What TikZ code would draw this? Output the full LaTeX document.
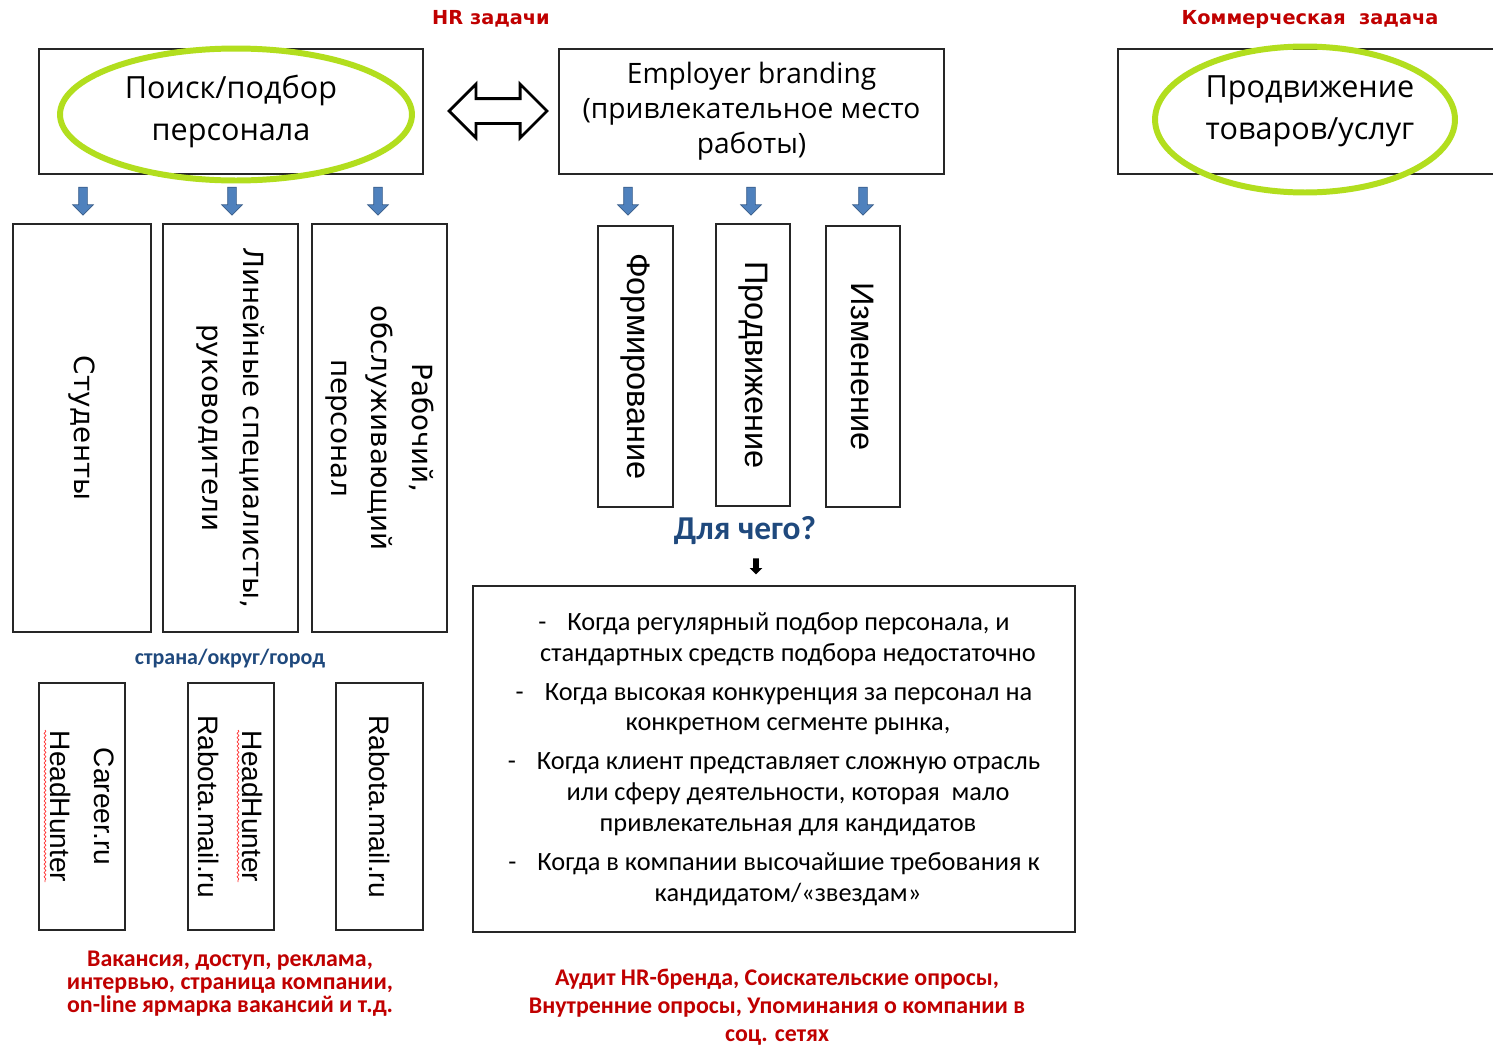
\documentclass[tikz,border=0pt]{standalone}
\usepackage{fontspec}
\setmainfont{Carlito}
\newfontfamily\boxfont{Open Sans}
\newfontfamily\vertfont{DejaVu Sans}
\newfontfamily\arialfont{Liberation Sans}
\usepackage{xcolor}
\usetikzlibrary{shapes.arrows,decorations.pathmorphing}
\definecolor{hrred}{RGB}{192,0,0}
\definecolor{ovalgreen}{RGB}{178,222,30}
\definecolor{darkblue}{RGB}{31,73,125}
\definecolor{arrowblue}{RGB}{79,129,189}
\definecolor{arrowedge}{RGB}{56,93,138}
\newcommand{\hang}{\hspace*{0.56cm}}

\begin{document}
\begin{tikzpicture}[x=0.02cm, y=-0.02cm,
  box/.style={draw=black!85, line width=0.8pt, inner sep=0pt, align=center},
  oval/.style={draw=ovalgreen, line width=3.4pt},
  bluearrow/.style={single arrow, draw=arrowedge, fill=arrowblue, line width=0.4pt, rotate=-90,
    minimum height=0.56cm, inner xsep=0pt, inner ysep=0.08cm, single arrow head extend=0.12cm},
  vbox/.style={box, rotate=-90, font=\vertfont\fontsize{15.8}{23}\selectfont},
  sitebox/.style={box, rotate=-90, font=\arialfont\fontsize{16}{25}\selectfont},
  stepbox/.style={box, rotate=-90, font=\arialfont\fontsize{18.5}{22}\selectfont},
  spellwave/.style={draw=red!80, line width=0.4pt, decorate, decoration={snake, amplitude=0.5pt, segment length=2.4pt}},
  redtext/.style={text=hrred, font=\bfseries\fontsize{13.6}{13}\selectfont, align=center}]
\fill[white] (0,0) rectangle (1493,1045);
\useasboundingbox (0,0) rectangle (1493,1045);

%%%%% Titles %%%%%
\node[font=\vertfont\bfseries\fontsize{11}{12}\selectfont, text=hrred] (hrtitle) at (491,19) {HR задачи};
\node[font=\vertfont\bfseries\fontsize{11}{12}\selectfont, text=hrred] (komtitle) at (1310,19) {Коммерческая\ \ задача};

%%%%% Top row %%%%%
\node[box, minimum width=7.68cm, minimum height=2.5cm, font=\boxfont\fontsize{17.4}{24}\selectfont] (poisk) at (231,111.5) {Поиск/подбор\\персонала};
\draw[oval] (236,114.5) ellipse (3.52cm and 1.32cm);
\node[double arrow, draw, line width=1.6pt, minimum height=1.96cm, inner xsep=0pt, inner ysep=0.22cm,
  double arrow head extend=0.29cm] (link) at (498,111) {};
\node[box, minimum width=7.7cm, minimum height=2.5cm, font=\boxfont\fontsize{16}{20}\selectfont] (brand) at (751.5,111.5) {Employer branding\\(привлекательное место\\работы)};
\node[box, minimum width=7.68cm, minimum height=2.5cm, font=\boxfont\fontsize{17.4}{24}\selectfont] (prodvizh) at (1310,111.5) {Продвижение\\товаров/услуг};
\draw[oval] (1305,119.5) ellipse (3.0cm and 1.46cm);

%%%%% Arrows %%%%%
\foreach \x/\n in {83/a1,232/a2,378/a3,628/b1,751/b2,863/b3}{
\node[bluearrow] (arr\n) at (\x,199) {};
}

%%%%% Target groups %%%%%
\node[vbox, minimum width=8.16cm, minimum height=2.76cm] (stud) at (82,428) {Студенты};
\node[vbox, minimum width=8.16cm, minimum height=2.7cm] (lin) at (230.5,428) {Линейные специалисты,\\руководители};
\node[vbox, minimum width=8.16cm, minimum height=2.7cm] (rab) at (379.5,428) {Рабочий,\\обслуживающий\\персонал};

%%%%% Branding steps %%%%%
\node[stepbox, minimum width=5.62cm, minimum height=1.5cm] (form) at (635.5,366.5) {Формирование};
\node[stepbox, minimum width=5.64cm, minimum height=1.48cm] (prodv) at (753,365) {Продвижение};
\node[stepbox, minimum width=5.62cm, minimum height=1.48cm] (izm) at (863,366.5) {Изменение};

\node[font=\bfseries\fontsize{19}{22}\selectfont, text=darkblue] (dlya) at (745,531) {Для чего?};
\node[single arrow, fill=black, rotate=-90, minimum height=0.32cm, inner xsep=0pt, inner ysep=0.05cm,
  single arrow head extend=0.07cm] (arrdown) at (756,565) {};
\node[box, minimum width=12.04cm, minimum height=6.92cm, font=\fontsize{15}{17.6}\selectfont] (why) at (774,759) {%
-\hspace{0.8em}Когда регулярный подбор персонала, и\\
\hang стандартных средств подбора недостаточно\\[4.5pt]
-\hspace{0.8em}Когда высокая конкуренция за персонал на\\
\hang конкретном сегменте рынка,\\[4.5pt]
-\hspace{0.8em}Когда клиент представляет сложную отрасль\\
\hang или сферу деятельности, которая\ \ мало\\
\hang привлекательная для кандидатов\\[4.5pt]
-\hspace{0.8em}Когда в компании высочайшие требования к\\
\hang кандидатом/«звездам»};

%%%%% Sites %%%%%
\node[font=\bfseries\fontsize{12.5}{14}\selectfont, text=darkblue] (region) at (230,659) {страна/округ/город};
\node[sitebox, minimum width=4.94cm, minimum height=1.72cm] (site1) at (82,806.5) {Career.ru\\HeadHunter};
\node[sitebox, minimum width=4.94cm, minimum height=1.72cm] (site2) at (231,806.5) {HeadHunter\\Rabota.mail.ru};
\node[sitebox, minimum width=4.94cm, minimum height=1.74cm] (site3) at (379.5,806.5) {Rabota.mail.ru};
\draw[spellwave] (45,730) -- (45,882);
\draw[spellwave] (238,730) -- (238,882);

%%%%% Tools %%%%%
\node[redtext] (hrtools) at (230,984) {Вакансия, доступ, реклама,\\интервью, страница компании,\\on-line ярмарка вакансий и т.д.};
\node[redtext, font=\bfseries\fontsize{13.6}{16}\selectfont] (brandtools) at (777,1007) {Аудит HR-бренда, Соискательские опросы,\\Внутренние опросы, Упоминания о компании в\\соц. сетях};
\end{tikzpicture}
\end{document}
